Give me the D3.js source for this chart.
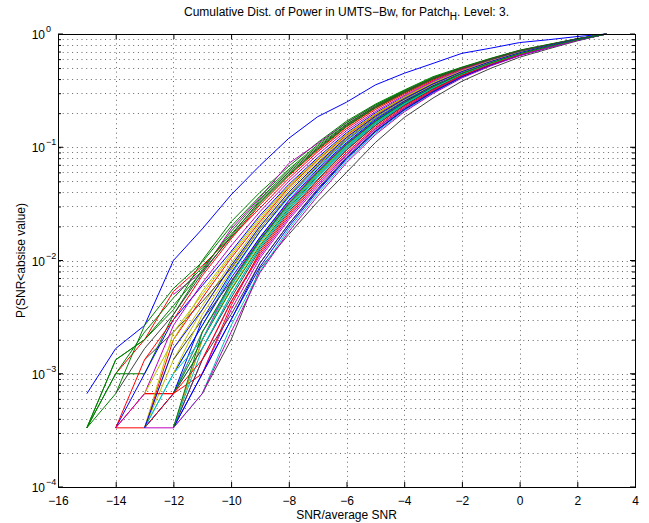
<!DOCTYPE html>
<html>
<head>
<meta charset="utf-8">
<script src="https://cdn.jsdelivr.net/npm/d3@7"></script>
<style>
body { margin: 0; background: #fff; }
svg text { font-family: "Liberation Sans", Arial, sans-serif; fill: #000; }
</style>
</head>
<body>
<div id="vis"></div>
<script>
// SNR sample points (dB relative to average)
var snr = [-15, -14, -13, -12, -11, -10, -9, -8, -7, -6, -5, -4, -3, -2, -1, 0, 1, 2, 3];

var xTicks = [-16, -14, -12, -10, -8, -6, -4, -2, 0, 2, 4];
var yDecades = [1e-4, 1e-3, 1e-2, 1e-1, 1];
var yExponents = ["\u22124", "\u22123", "\u22122", "\u22121", "0"];

// MATLAB default colour order
var colorOrder = ["#0000ff", "#008000", "#ff0000", "#00bfbf", "#bf00bf", "#bfbf00", "#404040"];

// one row per measured position, value at each snr point (null = no sample below)
var curves = [
  [6.67e-4, 1.67e-3, 2.67e-3, 0.010, 0.019, 0.038, 0.069, 0.12, 0.186, 0.25, 0.355, 0.45, 0.55, 0.675, 0.75, 0.84, 0.89, 0.95, 1],
  [3.33e-4, 1.33e-3, 2.0e-3, 3.67e-3, 0.010, 0.022, 0.040, 0.068, 0.11, 0.17, 0.24, 0.32, 0.42, 0.51, 0.61, 0.72, 0.81, 0.91, 1],
  [null, 3.33e-4, 6.67e-4, 6.67e-4, 2.33e-3, 0.0060, 0.015, 0.031, 0.058, 0.103, 0.166, 0.245, 0.34, 0.447, 0.555, 0.668, 0.775, 0.888, 1],
  [null, null, 3.33e-4, 1.0e-3, 2.67e-3, 0.0075, 0.018, 0.036, 0.066, 0.114, 0.178, 0.257, 0.352, 0.457, 0.563, 0.676, 0.78, 0.891, 1],
  [null, null, null, 5.0e-3, 8.0e-3, 0.019, 0.036, 0.072, 0.108, 0.165, 0.235, 0.312, 0.41, 0.50, 0.60, 0.712, 0.80, 0.905, 1],
  [null, null, 3.33e-4, 1.67e-3, 4.0e-3, 0.0095, 0.021, 0.042, 0.074, 0.125, 0.19, 0.27, 0.365, 0.467, 0.572, 0.684, 0.785, 0.895, 1],
  [null, null, null, null, 6.67e-4, 2.0e-3, 8.5e-3, 0.017, 0.033, 0.060, 0.11, 0.183, 0.272, 0.383, 0.498, 0.624, 0.739, 0.869, 1],
  [null, null, null, 3.33e-4, 1.0e-3, 3.0e-3, 9.5e-3, 0.021, 0.042, 0.08, 0.138, 0.215, 0.31, 0.42, 0.532, 0.65, 0.76, 0.881, 1],
  [3.33e-4, 1.0e-3, 1.0e-3, 3.33e-3, 8.33e-3, 0.018, 0.035, 0.062, 0.102, 0.16, 0.23, 0.31, 0.407, 0.502, 0.602, 0.712, 0.802, 0.906, 1],
  [null, 1.0e-3, 2.0e-3, 5.33e-3, 9.0e-3, 0.016, 0.029, 0.053, 0.091, 0.146, 0.215, 0.295, 0.39, 0.488, 0.59, 0.70, 0.795, 0.90, 1],
  [null, null, 3.33e-4, 6.67e-4, 1.67e-3, 5.0e-3, 0.013, 0.028, 0.054, 0.097, 0.16, 0.238, 0.332, 0.44, 0.548, 0.664, 0.771, 0.886, 1],
  [null, null, 3.33e-4, 3.33e-4, 2.0e-3, 6.5e-3, 0.016, 0.033, 0.062, 0.108, 0.172, 0.25, 0.345, 0.45, 0.558, 0.671, 0.777, 0.889, 1],
  [null, null, 3.33e-4, 1.33e-3, 3.67e-3, 0.0088, 0.020, 0.04, 0.072, 0.122, 0.187, 0.266, 0.361, 0.464, 0.57, 0.682, 0.784, 0.894, 1],
  [null, null, 1.33e-3, 2.33e-3, 4.33e-3, 0.0085, 0.019, 0.038, 0.07, 0.118, 0.184, 0.262, 0.357, 0.46, 0.567, 0.679, 0.783, 0.893, 1],
  [null, null, null, 1.0e-3, 2.67e-3, 0.0070, 0.016, 0.034, 0.064, 0.11, 0.175, 0.254, 0.349, 0.454, 0.561, 0.675, 0.779, 0.891, 1],
  [3.33e-4, 6.67e-4, 2.67e-3, 5.67e-3, 9.67e-3, 0.020, 0.037, 0.064, 0.105, 0.165, 0.236, 0.316, 0.413, 0.506, 0.606, 0.716, 0.806, 0.908, 1],
  [null, null, 6.67e-4, 6.67e-4, 1.0e-3, 4.0e-3, 0.012, 0.026, 0.051, 0.094, 0.155, 0.233, 0.327, 0.435, 0.545, 0.66, 0.768, 0.885, 1],
  [null, null, null, 3.33e-4, 6.67e-4, 2.67e-3, 8.0e-3, 0.019, 0.039, 0.076, 0.133, 0.21, 0.302, 0.413, 0.527, 0.646, 0.757, 0.879, 1],
  [null, null, null, 3.33e-4, 1.33e-3, 4.33e-3, 0.011, 0.024, 0.047, 0.087, 0.146, 0.223, 0.317, 0.426, 0.537, 0.654, 0.763, 0.882, 1],
  [null, null, null, 3.33e-4, 2.0e-3, 5.67e-3, 0.014, 0.03, 0.058, 0.103, 0.166, 0.245, 0.34, 0.446, 0.554, 0.669, 0.775, 0.888, 1],
  [null, null, null, 6.67e-4, 1.67e-3, 4.67e-3, 0.0125, 0.027, 0.052, 0.095, 0.156, 0.234, 0.328, 0.436, 0.546, 0.661, 0.769, 0.885, 1],
  [null, 3.33e-4, 1.0e-3, 3.0e-3, 6.0e-3, 0.012, 0.025, 0.047, 0.081, 0.134, 0.201, 0.28, 0.376, 0.476, 0.58, 0.69, 0.79, 0.897, 1],
  [3.33e-4, 1.0e-3, 2.33e-3, 4.67e-3, 8.7e-3, 0.017, 0.033, 0.058, 0.097, 0.155, 0.225, 0.305, 0.402, 0.498, 0.598, 0.708, 0.799, 0.904, 1],
  [null, 3.33e-4, 3.33e-4, 2.0e-3, 4.67e-3, 0.0105, 0.022, 0.044, 0.077, 0.128, 0.194, 0.273, 0.368, 0.47, 0.575, 0.686, 0.787, 0.895, 1],
  [null, null, null, 6.67e-4, 2.33e-3, 6.0e-3, 0.015, 0.031, 0.059, 0.104, 0.167, 0.246, 0.341, 0.447, 0.555, 0.669, 0.775, 0.888, 1],
  [null, null, null, null, 1.0e-3, 3.67e-3, 0.0105, 0.023, 0.045, 0.085, 0.144, 0.221, 0.315, 0.424, 0.535, 0.652, 0.762, 0.882, 1],
  [null, null, 3.33e-4, 2.33e-3, 5.0e-3, 0.011, 0.023, 0.045, 0.078, 0.13, 0.196, 0.276, 0.371, 0.472, 0.577, 0.688, 0.788, 0.896, 1],
  [null, null, null, 3.33e-4, 1.33e-3, 3.33e-3, 9.5e-3, 0.021, 0.043, 0.082, 0.14, 0.217, 0.311, 0.421, 0.532, 0.65, 0.76, 0.881, 1],
  [null, null, 3.33e-4, 6.67e-4, 3.0e-3, 0.0078, 0.018, 0.037, 0.068, 0.116, 0.181, 0.26, 0.355, 0.459, 0.566, 0.678, 0.782, 0.892, 1],
  [null, null, null, 6.67e-4, 2.0e-3, 0.0055, 0.0135, 0.029, 0.056, 0.1, 0.162, 0.241, 0.335, 0.442, 0.551, 0.666, 0.773, 0.887, 1],
  [null, 3.33e-4, 1.33e-3, 3.0e-3, 7.33e-3, 0.0155, 0.031, 0.056, 0.094, 0.151, 0.221, 0.301, 0.398, 0.495, 0.596, 0.706, 0.798, 0.903, 1],
  [null, null, null, 3.33e-4, 1.67e-3, 5.0e-3, 0.013, 0.028, 0.055, 0.099, 0.162, 0.24, 0.334, 0.441, 0.55, 0.665, 0.772, 0.887, 1],
  [null, 3.33e-4, 6.67e-4, 2.67e-3, 6.33e-3, 0.0135, 0.027, 0.05, 0.086, 0.14, 0.207, 0.287, 0.383, 0.482, 0.585, 0.695, 0.793, 0.899, 1],
  [null, null, 6.67e-4, 2.0e-3, 5.33e-3, 0.0115, 0.024, 0.046, 0.079, 0.131, 0.197, 0.277, 0.372, 0.473, 0.578, 0.689, 0.789, 0.896, 1],
  [null, null, null, 1.33e-3, 3.0e-3, 0.0065, 0.015, 0.032, 0.061, 0.106, 0.17, 0.249, 0.343, 0.449, 0.557, 0.67, 0.776, 0.889, 1],
  [null, null, null, 3.33e-4, 1.0e-3, 3.0e-3, 8.8e-3, 0.02, 0.041, 0.079, 0.137, 0.214, 0.307, 0.418, 0.53, 0.648, 0.759, 0.88, 1],
  [3.33e-4, 1.33e-3, 2.0e-3, 4.0e-3, 8.0e-3, 0.016, 0.032, 0.057, 0.096, 0.153, 0.223, 0.303, 0.4, 0.497, 0.597, 0.707, 0.799, 0.903, 1],
  [null, null, 3.33e-4, 6.67e-4, 1.33e-3, 4.33e-3, 0.0115, 0.025, 0.049, 0.09, 0.15, 0.228, 0.322, 0.43, 0.541, 0.657, 0.766, 0.884, 1],
  [null, null, 3.33e-4, 1.0e-3, 2.0e-3, 6.0e-3, 0.0145, 0.030, 0.057, 0.101, 0.164, 0.243, 0.337, 0.444, 0.552, 0.667, 0.774, 0.887, 1],
  [null, null, null, 3.33e-4, 6.67e-4, 2.33e-3, 0.0078, 0.018, 0.037, 0.073, 0.129, 0.205, 0.298, 0.409, 0.523, 0.643, 0.755, 0.878, 1],
  [null, null, null, 1.0e-3, 3.33e-3, 0.0082, 0.019, 0.038, 0.069, 0.117, 0.182, 0.261, 0.356, 0.46, 0.567, 0.679, 0.783, 0.893, 1],
  [null, 6.67e-4, 1.67e-3, 3.33e-3, 7.7e-3, 0.0165, 0.034, 0.06, 0.099, 0.158, 0.228, 0.308, 0.405, 0.5, 0.6, 0.71, 0.8, 0.905, 1],
  [null, null, 3.33e-4, 1.67e-3, 3.67e-3, 0.009, 0.02, 0.04, 0.072, 0.122, 0.188, 0.267, 0.362, 0.465, 0.571, 0.683, 0.785, 0.894, 1],
  [null, null, null, 3.33e-4, 2.33e-3, 6.33e-3, 0.0155, 0.032, 0.060, 0.106, 0.169, 0.248, 0.342, 0.448, 0.556, 0.67, 0.776, 0.889, 1]
];

var width = 649, height = 523;
var scales = {
  snr: d3.scaleLinear().domain([-16, 4]).range([58, 635]),
  prob: d3.scaleLog().domain([1e-4, 1]).range([487, 34])
};

var svg = d3.select("#vis")
  .append("svg")
  .attr("width", width)
  .attr("height", height);

function draw_grid() {
  var left = scales.snr.range()[0], right = scales.snr.range()[1];
  var bottom = scales.prob.range()[0], top = scales.prob.range()[1];
  var grid = svg.append("g").attr("class", "grid")
    .attr("stroke", "#000")
    .attr("stroke-opacity", 0.6)
    .attr("stroke-width", 1)
    .attr("stroke-dasharray", "1,3.7");

  grid.selectAll(".gx")
    .data(xTicks.slice(1, -1))
    .enter()
    .append("line")
    .attr("x1", function(d) { return Math.round(scales.snr(d)) + 0.5; })
    .attr("x2", function(d) { return Math.round(scales.snr(d)) + 0.5; })
    .attr("y1", top)
    .attr("y2", bottom);

  var yMinor = scales.prob.ticks().filter(function(d) { return d > 1e-4 && d < 1; });
  grid.selectAll(".gy")
    .data(yMinor)
    .enter()
    .append("line")
    .attr("x1", left)
    .attr("x2", right)
    .attr("y1", function(d) { return Math.round(scales.prob(d)) + 0.5; })
    .attr("y2", function(d) { return Math.round(scales.prob(d)) + 0.5; });
}

function draw_curves() {
  var line = d3.line()
    .defined(function(d) { return d[1] != null; })
    .x(function(d) { return scales.snr(d[0]); })
    .y(function(d) { return scales.prob(d[1]); });

  svg.append("g")
    .attr("class", "curves")
    .selectAll("path")
    .data(curves)
    .enter()
    .append("path")
    .attr("fill", "none")
    .attr("stroke-width", 1)
    .attr("stroke", function(d, i) { return colorOrder[i % colorOrder.length]; })
    .attr("d", function(d) {
      return line(d.map(function(v, j) { return [snr[j], v]; }));
    });
}

function draw_axes() {
  var left = scales.snr.range()[0], right = scales.snr.range()[1];
  var bottom = scales.prob.range()[0], top = scales.prob.range()[1];
  var yAll = scales.prob.ticks();

  var x_axis = d3.axisBottom(scales.snr)
    .tickValues(xTicks)
    .tickSizeInner(-5)
    .tickSizeOuter(0)
    .tickPadding(9)
    .tickFormat(function(d) { return d < 0 ? "\u2212" + Math.abs(d) : d; });
  svg.append("g")
    .attr("class", "x_axis")
    .attr("transform", "translate(0," + bottom + ")")
    .call(x_axis);

  var x_top = d3.axisTop(scales.snr)
    .tickValues(xTicks)
    .tickSizeInner(-5)
    .tickSizeOuter(0)
    .tickFormat("");
  svg.append("g")
    .attr("transform", "translate(0," + top + ")")
    .call(x_top);

  var y_left = d3.axisLeft(scales.prob)
    .tickValues(yAll)
    .tickSizeInner(-3)
    .tickSizeOuter(0)
    .tickFormat("");
  svg.append("g")
    .attr("class", "y_axis")
    .attr("transform", "translate(" + left + ",0)")
    .call(y_left);

  var y_right = d3.axisRight(scales.prob)
    .tickValues(yAll)
    .tickSizeInner(-3)
    .tickSizeOuter(0)
    .tickFormat("");
  svg.append("g")
    .attr("class", "y_axis")
    .attr("transform", "translate(" + right + ",0)")
    .call(y_right);

  // longer major ticks on both sides
  var major = svg.append("g").attr("stroke", "#000");
  major.selectAll(".ml")
    .data(yDecades)
    .enter()
    .append("line")
    .attr("x1", left).attr("x2", left + 5)
    .attr("y1", function(d) { return scales.prob(d); })
    .attr("y2", function(d) { return scales.prob(d); });
  major.selectAll(".mr")
    .data(yDecades)
    .enter()
    .append("line")
    .attr("x1", right).attr("x2", right - 5)
    .attr("y1", function(d) { return scales.prob(d); })
    .attr("y2", function(d) { return scales.prob(d); });

  svg.selectAll(".x_axis text")
    .attr("font-size", 12)
    .attr("font-family", "Liberation Sans, Arial, sans-serif");
  svg.selectAll(".domain").remove();

  svg.append("rect")
    .attr("x", left + 0.5)
    .attr("y", top + 0.5)
    .attr("width", right - left)
    .attr("height", bottom - top)
    .attr("fill", "none")
    .attr("stroke", "#000")
    .attr("stroke-width", 1);

  // "10" base right-aligned, exponent hanging to its right
  var labels = svg.append("g").attr("class", "y_labels").attr("font-size", 12);
  labels.selectAll(".base")
    .data(yDecades)
    .enter()
    .append("text")
    .attr("x", left - 13)
    .attr("y", function(d) { return scales.prob(d) + 5; })
    .attr("text-anchor", "end")
    .text("10");
  labels.selectAll(".expo")
    .data(yDecades)
    .enter()
    .append("text")
    .attr("x", left - 12)
    .attr("y", function(d) { return scales.prob(d) - 2; })
    .attr("font-size", 9)
    .text(function(d, i) { return yExponents[i]; });
}

function draw_titles() {
  var cx = (scales.snr.range()[0] + scales.snr.range()[1]) / 2;
  var title = svg.append("text")
    .attr("x", cx)
    .attr("y", 16)
    .attr("text-anchor", "middle")
    .attr("font-size", 12);
  title.append("tspan").text("Cumulative Dist. of Power in UMTS\u2212Bw, for Patch");
  title.append("tspan").attr("dy", 4).attr("font-size", 10).text("H");
  title.append("tspan").attr("dy", -4).text(". Level: 3.");

  svg.append("text")
    .attr("x", cx)
    .attr("y", 519)
    .attr("text-anchor", "middle")
    .attr("font-size", 12)
    .text("SNR/average SNR");

  svg.append("text")
    .attr("transform", "translate(25," + ((scales.prob.range()[0] + scales.prob.range()[1]) / 2) + ")rotate(-90)")
    .attr("text-anchor", "middle")
    .attr("font-size", 12)
    .text("P(SNR<absise value)");
}

draw_grid();
draw_curves();
draw_axes();
draw_titles();
</script>
</body>
</html>
